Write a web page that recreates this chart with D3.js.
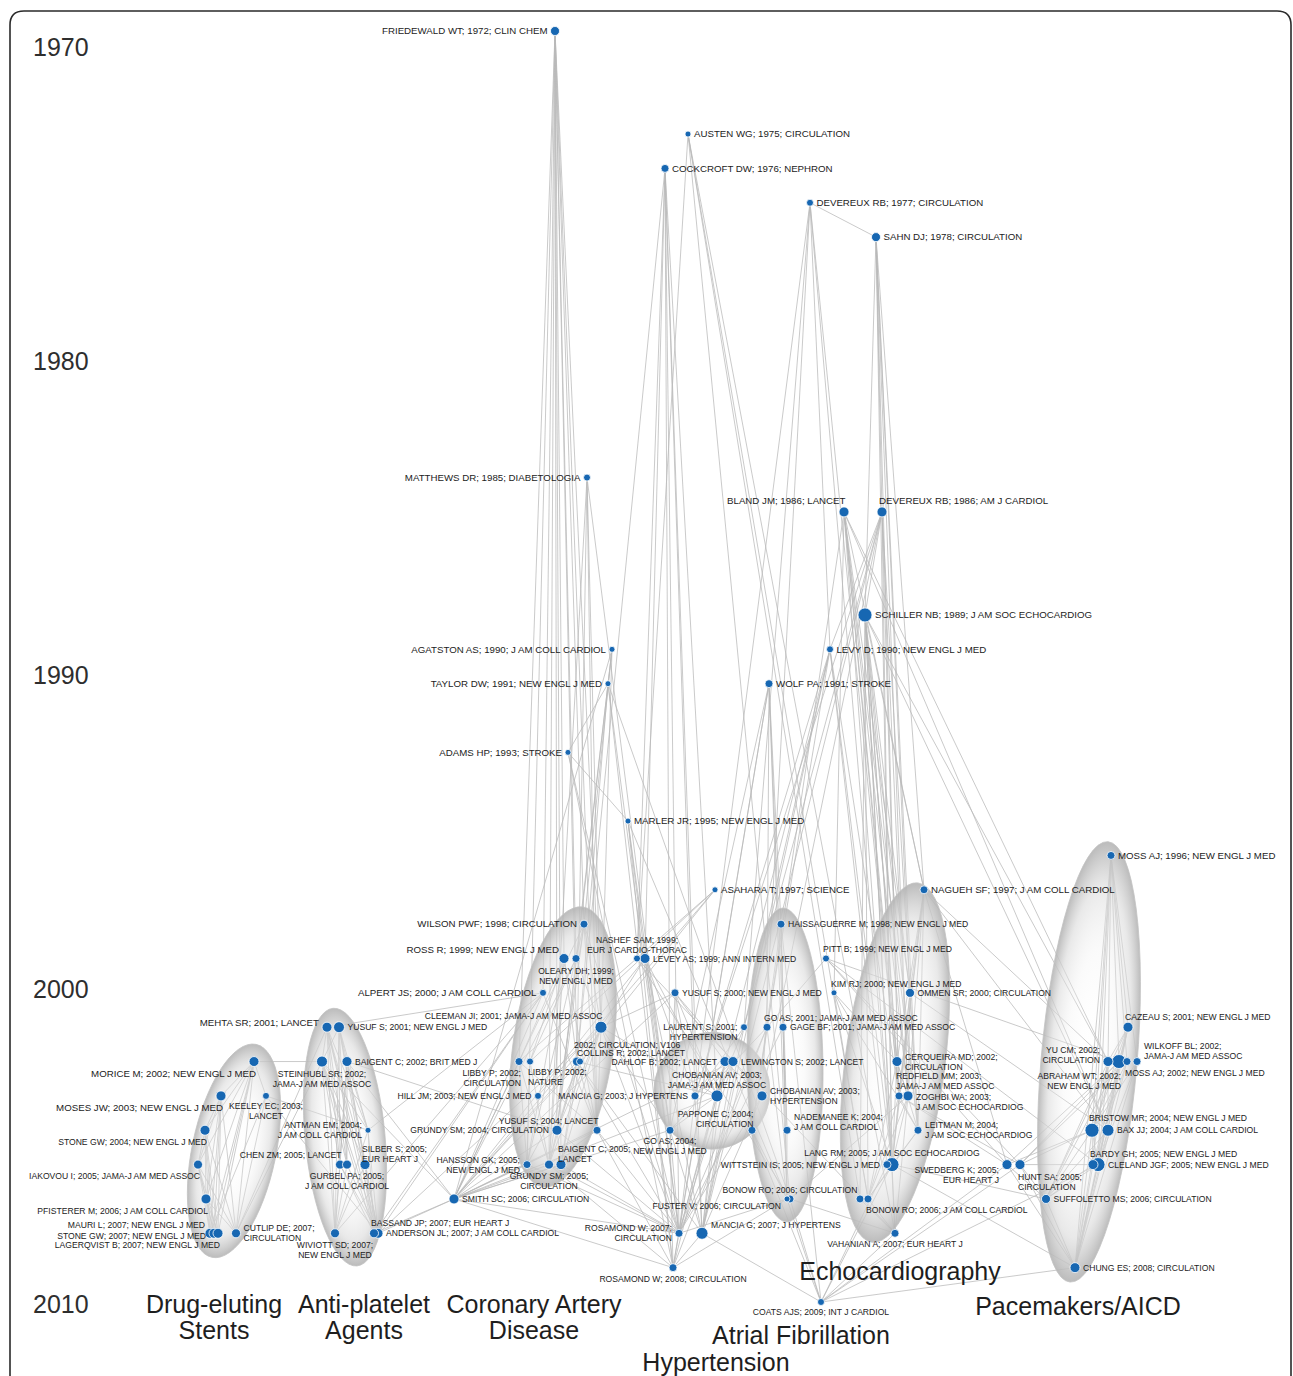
<!DOCTYPE html>
<html><head><meta charset="utf-8">
<script src="https://cdn.jsdelivr.net/npm/d3@7"></script>
<style>body{margin:0;background:#fff}svg{display:block}</style>
</head><body>
<svg id="chart" width="1293" height="1376"></svg>
<script>
// ---------- DATA ----------
// [id, label, publication year, citation weight]
const papers = [
 ["fried","FRIEDEWALD WT; 1972; CLIN CHEM",1972,32],
 ["austen","AUSTEN WG; 1975; CIRCULATION",1975,14],
 ["cock","COCKCROFT DW; 1976; NEPHRON",1976,25],
 ["dev77","DEVEREUX RB; 1977; CIRCULATION",1977,19],
 ["sahn","SAHN DJ; 1978; CIRCULATION",1978,32],
 ["matt","MATTHEWS DR; 1985; DIABETOLOGIA",1985,19],
 ["bland","BLAND JM; 1986; LANCET",1986,39],
 ["dev86","DEVEREUX RB; 1986; AM J CARDIOL",1986,39],
 ["schil","SCHILLER NB; 1989; J AM SOC ECHOCARDIOG",1989,77],
 ["levy","LEVY D; 1990; NEW ENGL J MED",1990,19],
 ["agat","AGATSTON AS; 1990; J AM COLL CARDIOL",1990,14],
 ["taylor","TAYLOR DW; 1991; NEW ENGL J MED",1991,14],
 ["wolf","WOLF PA; 1991; STROKE",1991,25],
 ["adams","ADAMS HP; 1993; STROKE",1993,14],
 ["marler","MARLER JR; 1995; NEW ENGL J MED",1995,14],
 ["moss96","MOSS AJ; 1996; NEW ENGL J MED",1996,25],
 ["asah","ASAHARA T; 1997; SCIENCE",1997,14],
 ["nagueh","NAGUEH SF; 1997; J AM COLL CARDIOL",1997,25],
 ["wilson","WILSON PWF; 1998; CIRCULATION",1998,25],
 ["haiss","HAISSAGUERRE M; 1998; NEW ENGL J MED",1998,25],
 ["ross","ROSS R; 1999; NEW ENGL J MED",1999,39],
 ["oleary","OLEARY DH; 1999;\nNEW ENGL J MED",1999,25],
 ["nashef","NASHEF SAM; 1999;\nEUR J CARDIO-THORAC",1999,19],
 ["levey","LEVEY AS; 1999; ANN INTERN MED",1999,39],
 ["pitt","PITT B; 1999; NEW ENGL J MED",1999,19],
 ["alpert","ALPERT JS; 2000; J AM COLL CARDIOL",2000,19],
 ["yusuf00","YUSUF S; 2000; NEW ENGL J MED",2000,25],
 ["kim","KIM RJ; 2000; NEW ENGL J MED",2000,14],
 ["ommen","OMMEN SR; 2000; CIRCULATION",2000,32],
 ["cleeman","CLEEMAN JI; 2001; JAMA-J AM MED ASSOC",2001,56],
 ["mehta","MEHTA SR; 2001; LANCET",2001,39],
 ["yusuf01","YUSUF S; 2001; NEW ENGL J MED",2001,47],
 ["laurent","LAURENT S; 2001;\nHYPERTENSION",2001,19],
 ["go01","GO AS; 2001; JAMA-J AM MED ASSOC",2001,25],
 ["gage","GAGE BF; 2001; JAMA-J AM MED ASSOC",2001,25],
 ["cazeau","CAZEAU S; 2001; NEW ENGL J MED",2001,39],
 ["morice","MORICE M; 2002; NEW ENGL J MED",2002,39],
 ["stein","STEINHUBL SR; 2002;\nJAMA-J AM MED ASSOC",2002,47],
 ["baig02","BAIGENT C; 2002; BRIT MED J",2002,39],
 ["libbyC","LIBBY P; 2002;\nCIRCULATION",2002,25],
 ["libbyN","LIBBY P; 2002;\nNATURE",2002,19],
 ["circ02","2002; CIRCULATION; V106",2002,32],
 ["collins","COLLINS R; 2002; LANCET",2002,19],
 ["dahlof","DAHLOF B; 2002; LANCET",2002,39],
 ["lewing","LEWINGTON S; 2002; LANCET",2002,39],
 ["cerq","CERQUEIRA MD; 2002;\nCIRCULATION",2002,39],
 ["yu","YU CM; 2002;\nCIRCULATION",2002,39],
 ["abraham","ABRAHAM WT; 2002;\nNEW ENGL J MED",2002,77],
 ["moss02","MOSS AJ; 2002; NEW ENGL J MED",2002,25],
 ["wilkoff","WILKOFF BL; 2002;\nJAMA-J AM MED ASSOC",2002,25],
 ["moses","MOSES JW; 2003; NEW ENGL J MED",2003,39],
 ["keeley","KEELEY EC; 2003;\nLANCET",2003,19],
 ["hill","HILL JM; 2003; NEW ENGL J MED",2003,19],
 ["mancia03","MANCIA G; 2003; J HYPERTENS",2003,25],
 ["chobJ","CHOBANIAN AV; 2003;\nJAMA-J AM MED ASSOC",2003,56],
 ["chobH","CHOBANIAN AV; 2003;\nHYPERTENSION",2003,39],
 ["redf","REDFIELD MM; 2003;\nJAMA-J AM MED ASSOC",2003,25],
 ["zoghbi","ZOGHBI WA; 2003;\nJ AM SOC ECHOCARDIOG",2003,39],
 ["stone04","STONE GW; 2004; NEW ENGL J MED",2004,39],
 ["antman","ANTMAN EM; 2004;\nJ AM COLL CARDIOL",2004,14],
 ["grundy04","GRUNDY SM; 2004; CIRCULATION",2004,39],
 ["yusuf04","YUSUF S; 2004; LANCET",2004,25],
 ["go04","GO AS; 2004;\nNEW ENGL J MED",2004,25],
 ["pappone","PAPPONE C; 2004;\nCIRCULATION",2004,25],
 ["nadem","NADEMANEE K; 2004;\nJ AM COLL CARDIOL",2004,25],
 ["leitman","LEITMAN M; 2004;\nJ AM SOC ECHOCARDIOG",2004,25],
 ["bristow","BRISTOW MR; 2004; NEW ENGL J MED",2004,77],
 ["bax","BAX JJ; 2004; J AM COLL CARDIOL",2004,56],
 ["iakovou","IAKOVOU I; 2005; JAMA-J AM MED ASSOC",2005,32],
 ["chen","CHEN ZM; 2005; LANCET",2005,32],
 ["gurbel","GURBEL PA; 2005;\nJ AM COLL CARDIOL",2005,32],
 ["silber","SILBER S; 2005;\nEUR HEART J",2005,39],
 ["hansson","HANSSON GK; 2005;\nNEW ENGL J MED",2005,25],
 ["grundy05","GRUNDY SM; 2005;\nCIRCULATION",2005,32],
 ["baig05","BAIGENT C; 2005;\nLANCET",2005,39],
 ["lang","LANG RM; 2005; J AM SOC ECHOCARDIOG",2005,77],
 ["witt","WITTSTEIN IS; 2005; NEW ENGL J MED",2005,25],
 ["swed","SWEDBERG K; 2005;\nEUR HEART J",2005,39],
 ["hunt","HUNT SA; 2005;\nCIRCULATION",2005,39],
 ["cleland","CLELAND JGF; 2005; NEW ENGL J MED",2005,77],
 ["bardy","BARDY GH; 2005; NEW ENGL J MED",2005,39],
 ["pfist","PFISTERER M; 2006; J AM COLL CARDIOL",2006,39],
 ["smith","SMITH SC; 2006; CIRCULATION",2006,39],
 ["fuster","FUSTER V; 2006; CIRCULATION",2006,14],
 ["bonowC","BONOW RO; 2006; CIRCULATION",2006,25],
 ["bonowJ0","",2006,25],
 ["bonowJ","BONOW RO; 2006; J AM COLL CARDIOL",2006,25],
 ["suff","SUFFOLETTO MS; 2006; CIRCULATION",2006,32],
 ["mauri","MAURI L; 2007; NEW ENGL J MED",2007,39],
 ["stone07","STONE GW; 2007; NEW ENGL J MED",2007,39],
 ["lager","LAGERQVIST B; 2007; NEW ENGL J MED",2007,39],
 ["cutlip","CUTLIP DE; 2007;\nCIRCULATION",2007,32],
 ["wiviott","WIVIOTT SD; 2007;\nNEW ENGL J MED",2007,32],
 ["bassand","BASSAND JP; 2007; EUR HEART J",2007,32],
 ["anderson","ANDERSON JL; 2007; J AM COLL CARDIOL",2007,39],
 ["ros07","ROSAMOND W; 2007;\nCIRCULATION",2007,25],
 ["mancia07","MANCIA G; 2007; J HYPERTENS",2007,56],
 ["vahan","VAHANIAN A; 2007; EUR HEART J",2007,25],
 ["ros08","ROSAMOND W; 2008; CIRCULATION",2008,25],
 ["chung","CHUNG ES; 2008; CIRCULATION",2008,39],
 ["coats","COATS AJS; 2009; INT J CARDIOL",2009,19]
];

// horizontal layout coordinate of each paper (network layout)
const layoutX = {
 fried:555,austen:688,cock:665,dev77:810,sahn:876,matt:587,bland:844,dev86:882,schil:865,levy:830,
 agat:612,taylor:608,wolf:769,adams:568,marler:628,moss96:1111,asah:715,nagueh:924,wilson:584,haiss:781,
 ross:564,oleary:576,nashef:637,levey:645,pitt:826,alpert:543,yusuf00:675,kim:834,ommen:910,cleeman:601,
 mehta:327,yusuf01:339,laurent:744,go01:767,gage:783,cazeau:1128,morice:254,stein:322,baig02:347,
 libbyC:519,libbyN:530,circ02:577,collins:580,dahlof:725,lewing:733,cerq:897,yu:1108,abraham:1119,
 moss02:1127,wilkoff:1137,moses:221,keeley:266,hill:538,mancia03:695,chobJ:717,chobH:762,redf:899,
 zoghbi:908,stone04:205,antman:368,grundy04:557,yusuf04:597,go04:670,pappone:752,nadem:787,leitman:918,
 bristow:1092,bax:1108,iakovou:198,chen:340,gurbel:347,silber:365,hansson:527,grundy05:549,baig05:561,
 lang:892,witt:887,swed:1007,hunt:1020,cleland:1098,bardy:1093,pfist:206,smith:454,fuster:787,bonowC:790,
 bonowJ0:860,bonowJ:868,suff:1046,mauri:210,stone07:214,lager:218,cutlip:236,wiviott:335,bassand:374,
 anderson:378,ros07:679,mancia07:702,vahan:895,ros08:673,chung:1075,coats:821
};

// cited paper -> citing papers
const citedBy = {
 fried:"wilson oleary alpert cleeman grundy04 grundy05 baig05 circ02 yusuf04 libbyC hansson ross",
 austen:"nashef bonowJ bonowC vahan bonowJ0",
 cock:"levey go04 mancia03 mancia07 chobJ ros07 nashef circ02",
 dev77:"sahn levy lang mancia03 redf chobH laurent",
 sahn:"dev86 schil lang redf ommen zoghbi leitman nagueh",
 matt:"grundy05 yusuf04 cleeman circ02 go04",
 bland:"nagueh ommen leitman lang zoghbi kim cerq yu bax redf pappone",
 dev86:"schil levy lang redf chobH mancia07 leitman laurent mancia03 zoghbi",
 schil:"lang nagueh redf zoghbi ommen leitman cerq bonowJ yu bax vahan bonowJ0",
 levy:"laurent chobJ mancia03 mancia07 lang redf witt go01",
 agat:"cleeman oleary smith wilson grundy04",
 taylor:"adams ros07 circ02 bonowC ros08",
 wolf:"go01 gage fuster ros07 ros08 haiss go04",
 adams:"marler ros07 ros08",
 marler:"ros07 ros08 go04 fuster",
 asah:"hill libbyC libbyN circ02",
 nagueh:"redf zoghbi leitman lang ommen yu bax cerq swed",
 moss96:"moss02 abraham bristow bardy cleland wilkoff cazeau chung yu",
 wilson:"cleeman grundy04 grundy05 yusuf04 smith ros07 hansson",
 haiss:"pappone nadem fuster gage coats",
 ross:"libbyC libbyN hansson yusuf04 circ02 grundy05",
 oleary:"cleeman grundy04 smith libbyN",
 nashef:"vahan bonowC",
 levey:"go04 chobJ cleeman mancia07 smith mancia03",
 pitt:"swed hunt cleland abraham go01",
 alpert:"anderson bassand yusuf04 antman smith mehta wiviott",
 yusuf00:"chobJ dahlof mancia03 smith cleeman lewing go04",
 kim:"cerq leitman lang bonowJ",
 ommen:"redf zoghbi leitman lang bax",
 cleeman:"grundy04 grundy05 smith yusuf04 baig05 hansson chobJ ros07 anderson go04",
 mehta:"stein antman chen gurbel silber wiviott bassand anderson cutlip",
 yusuf01:"stein baig02 chen gurbel wiviott anderson bassand antman",
 laurent:"mancia07 chobJ mancia03",
 go01:"fuster ros07 ros08 pappone go04",
 gage:"fuster ros07 nadem",
 cazeau:"abraham bristow cleland yu bax suff chung bardy",
 morice:"moses stone04 iakovou pfist mauri stone07 lager cutlip keeley stein",
 stein:"chen gurbel wiviott anderson bassand antman silber cutlip smith",
 baig02:"antman gurbel silber chen wiviott anderson smith grundy04",
 libbyC:"hansson grundy05 smith yusuf04",
 libbyN:"hansson grundy05",
 circ02:"grundy04 grundy05 smith ros07 mancia07 chobJ yusuf04 baig05",
 collins:"baig05 smith grundy04",
 dahlof:"mancia07 chobJ chobH mancia03 ros07",
 lewing:"mancia07 chobJ chobH mancia03 ros07 smith",
 cerq:"lang leitman bonowJ zoghbi",
 yu:"bax suff chung bristow cleland",
 abraham:"bristow cleland suff chung bax hunt swed",
 moss02:"bristow bardy chung hunt",
 wilkoff:"bristow chung cleland",
 moses:"stone04 iakovou pfist mauri stone07 lager cutlip",
 keeley:"antman anderson mauri cutlip",
 mancia03:"mancia07 ros07",
 chobJ:"mancia07 ros07 ros08 smith go04",
 chobH:"mancia07 ros07",
 redf:"lang leitman bonowJ hunt swed",
 zoghbi:"lang bonowJ vahan bonowC",
 stone04:"mauri stone07 lager pfist iakovou cutlip",
 antman:"anderson bassand wiviott",
 grundy04:"grundy05 smith ros07 baig05",
 yusuf04:"smith ros07 ros08 grundy05",
 go04:"ros07 ros08 mancia07 smith",
 pappone:"fuster coats",
 nadem:"fuster",
 leitman:"lang bonowJ",
 bristow:"cleland suff chung hunt swed bardy",
 bax:"suff chung cleland",
 iakovou:"pfist mauri stone07 lager cutlip",
 chen:"wiviott anderson bassand",
 gurbel:"wiviott anderson",
 silber:"anderson bassand wiviott",
 hansson:"ros07 smith",
 grundy05:"smith ros07 ros08",
 baig05:"smith ros07",
 lang:"bonowJ vahan coats chung suff",
 witt:"coats",
 swed:"coats chung suff",
 hunt:"coats chung suff cleland",
 bardy:"chung suff",
 cleland:"chung suff coats",
 pfist:"mauri stone07 lager cutlip",
 bonowC:"vahan coats",
 fuster:"ros07 ros08 coats",
 bonowJ:"vahan",
 bonowJ0:"vahan",
 suff:"chung",
 smith:"ros07 ros08 anderson bassand",
 ros07:"ros08",
 mancia07:"ros08 coats",
 vahan:"coats",
 chung:"coats"
};

// research-front clusters: top / bottom point (layout x, year) and name
const clusterNames = [["Drug-eluting","Stents"],["Anti-platelet","Agents"],["Coronary Artery","Disease"],
  ["Hypertension"],["Atrial Fibrillation"],["Echocardiography"],["Pacemakers/AICD"]];
const clusterTop    = [[256,2001.5],[333,2000.45],[583,1997.5],[712,2001.15],[783,1997.53],[918,1996.8],[1108,1995.6]];
const clusterBottom = [[212,2007.7],[357,2007.95],[543,2005.65],[712,2004.55],[787,2006.67],[872,2007.26],[1070,2008.42]];
const clusterHalfWidth = [42,40,50,58,38,50,48];
const clusterLabelAt = [[214,2009.32],[364,2009.32],[534,2009.32],[716,2011.0],[801,2010.22],[900,2008.36],[1078,2009.38]];

const yearTicks = [1970,1980,1990,2000,2010];

// papers whose labels are printed in the larger type
const largeLabels = ["fried","austen","cock","dev77","sahn","matt","bland","dev86","schil","levy","agat","taylor",
  "wolf","adams","marler","moss96","asah","nagueh","wilson","ross","alpert","mehta","morice","moses"];

// label placement (style): side code and vertical line shift
const labelPlacement = {
 fried:["l"],austen:["r"],cock:["r"],dev77:["r"],sahn:["r"],matt:["l"],bland:["al"],dev86:["ar"],schil:["r"],
 levy:["r"],agat:["l"],taylor:["l"],wolf:["r"],adams:["l"],marler:["r"],moss96:["r"],asah:["r"],nagueh:["r"],
 wilson:["l"],haiss:["r"],ross:["ul"],oleary:["b",0.2],nashef:["a"],levey:["r"],pitt:["ar"],alpert:["l"],
 yusuf00:["r"],kim:["ar"],ommen:["r"],cleeman:["al"],mehta:["l",-0.4],yusuf01:["r"],laurent:["l",0.5],
 go01:["ar"],gage:["r"],cazeau:["ar"],morice:["bl"],stein:["b"],baig02:["r"],libbyC:["bl"],libbyN:["br"],
 circ02:["ar",-0.7],collins:["ar"],dahlof:["l"],lewing:["r"],cerq:["r"],yu:["l",-0.65],abraham:["bl"],
 moss02:["br"],wilkoff:["r",-1.1],moses:["bl"],keeley:["b"],hill:["l"],mancia03:["l"],chobJ:["a"],
 chobH:["r"],redf:["ar"],zoghbi:["r",0.6],stone04:["bl"],antman:["l"],grundy04:["l"],yusuf04:["al"],
 go04:["b"],pappone:["al",0.3],nadem:["r",-0.8],leitman:["r"],bristow:["ar"],bax:["r"],iakovou:["bl"],
 chen:["al"],gurbel:["b"],silber:["ar",0.5],hansson:["l"],grundy05:["b"],baig05:["ar",0.5],lang:["a"],
 witt:["l"],swed:["l",1],hunt:["br"],cleland:["r"],bardy:["ar"],pfist:["bl"],smith:["r"],fuster:["l",0.65],
 bonowC:["a"],bonowJ0:["r"],bonowJ:["br"],suff:["r"],mauri:["ul"],stone07:["l",0.3],lager:["bl"],
 cutlip:["r"],wiviott:["b"],bassand:["ar"],anderson:["r"],ros07:["l"],mancia07:["r",-0.85],vahan:["b"],
 ros08:["b"],chung:["r"],coats:["b"]
};

// ---------- DRAWING ----------
const W = 1293, H = 1376;
const svg = d3.select("#chart");
const FONT = "'Liberation Sans', Arial, Helvetica, sans-serif";

const x = d3.scaleLinear().domain([0, W]).range([0, W]);
const y = d3.scaleLinear().domain([1972, 2009]).range([31, 1302]);
const r = d3.scaleSqrt().domain([0, 100]).range([0, 8]);
const yearGuide = d3.scaleLinear().domain([1970, 2010]).range([47, 1304]);

// frame
svg.append("path")
  .attr("d", `M10,${H+5} L10,25 Q10,11 24,11 L1277,11 Q1291,11 1291,25 L1291,${H+5}`)
  .attr("fill","none").attr("stroke","#2a2a2a").attr("stroke-width",1.6);

// year guide
const yAxis = d3.axisRight(yearGuide).tickValues(yearTicks).tickFormat(d3.format("d")).tickSize(0).tickPadding(0);
const ag = svg.append("g").attr("transform","translate(33,0)").call(yAxis);
ag.select(".domain").remove();
ag.selectAll("text").attr("font-family",FONT).attr("font-size",25).attr("fill","#2e2e2e");

const nodes = papers.map(([id,label,year,cites]) => ({id,label,year,cites,
  cx:x(layoutX[id]), cy:y(year), r:r(cites)}));
const byId = new Map(nodes.map(n => [n.id, n]));
const links = [];
Object.entries(citedBy).forEach(([s, list]) => list.split(" ").forEach(t => {
  if (byId.has(s) && byId.has(t)) links.push({s:byId.get(s), t:byId.get(t)});
}));

// gradient for clusters
const defs = svg.append("defs");
const grad = defs.append("radialGradient").attr("id","bubble");
[[0,"#ffffff",0.0],[0.5,"#f0f0f0",0.3],[0.8,"#dadada",0.6],[0.94,"#c2c2c2",0.85],[1,"#b4b4b4",0.9]]
  .forEach(([o,c,a]) => grad.append("stop").attr("offset",o).attr("stop-color",c).attr("stop-opacity",a));

// edges
svg.append("g").selectAll("line").data(links).join("line")
  .attr("x1",d=>d.s.cx).attr("y1",d=>d.s.cy).attr("x2",d=>d.t.cx).attr("y2",d=>d.t.cy)
  .attr("stroke","#b9b9b9").attr("stroke-width",0.9).attr("stroke-opacity",0.85);

// cluster bubbles
const clusters = clusterNames.map((name,i) => {
  const tx = x(clusterTop[i][0]), ty = y(clusterTop[i][1]);
  const bx = x(clusterBottom[i][0]), by = y(clusterBottom[i][1]);
  return {name, cx:(tx+bx)/2, cy:(ty+by)/2, ry:Math.hypot(bx-tx,by-ty)/2,
    rx:clusterHalfWidth[i], angle:Math.atan2(tx-bx, by-ty)*180/Math.PI,
    lx:x(clusterLabelAt[i][0]), ly:y(clusterLabelAt[i][1])};
});
svg.append("g").selectAll("ellipse").data(clusters).join("ellipse")
  .attr("transform",d=>`translate(${d.cx},${d.cy}) rotate(${d.angle})`)
  .attr("rx",d=>d.rx).attr("ry",d=>d.ry)
  .attr("fill","url(#bubble)").attr("stroke","#c4c4c4").attr("stroke-width",0.8);

// nodes (large first so small ones sit on top)
svg.append("g").selectAll("circle").data(nodes.slice().sort((a,b)=>b.r-a.r)).join("circle")
  .attr("cx",d=>d.cx).attr("cy",d=>d.cy).attr("r",d=>d.r)
  .attr("fill","#1767b2").attr("stroke","#ffffff").attr("stroke-width",0.8);

// node labels
const lg = svg.append("g").attr("font-family",FONT).attr("fill","#222");
nodes.filter(n => n.label).forEach(n => {
  const big = largeLabels.includes(n.id);
  const fs = big ? 9.7 : 8.6, LH = big ? 10.5 : 10;
  const [side, shift=0] = labelPlacement[n.id] || ["r"];
  const lines = n.label.split("\n"), k = lines.length;
  let anchor, tx, y0;
  switch (side) {
    case "r":  anchor="start";  tx=n.cx+n.r+3; y0=n.cy+3.2-(k-1)*LH/2; break;
    case "l":  anchor="end";    tx=n.cx-n.r-3; y0=n.cy+3.2-(k-1)*LH/2; break;
    case "ul": anchor="end";    tx=n.cx-n.r;   y0=n.cy-5; break;
    case "al": anchor="end";    tx=n.cx+1.5;   y0=n.cy-n.r-2.5-(k-1)*LH; break;
    case "ar": anchor="start";  tx=n.cx-3;     y0=n.cy-n.r-2.5-(k-1)*LH; break;
    case "a":  anchor="middle"; tx=n.cx;       y0=n.cy-n.r-1.5-(k-1)*LH; break;
    case "b":  anchor="middle"; tx=n.cx;       y0=n.cy+n.r+10; break;
    case "bl": anchor="end";    tx=n.cx+2;     y0=n.cy+n.r+10; break;
    case "br": anchor="start";  tx=n.cx-2;     y0=n.cy+n.r+10; break;
  }
  y0 += shift*LH;
  const t = lg.append("text").attr("text-anchor",anchor).attr("font-size",fs);
  lines.forEach((ln,i) => t.append("tspan").attr("x",tx).attr("y",y0+i*LH).text(ln));
});

// cluster names
const cg = svg.append("g").attr("font-family",FONT).attr("font-size",25).attr("fill","#1e1e1e").attr("text-anchor","middle");
clusters.forEach(c => {
  const t = cg.append("text");
  c.name.forEach((ln,i) => t.append("tspan").attr("x",c.lx).attr("y",c.ly+i*26).text(ln));
});
</script>
</body></html>
